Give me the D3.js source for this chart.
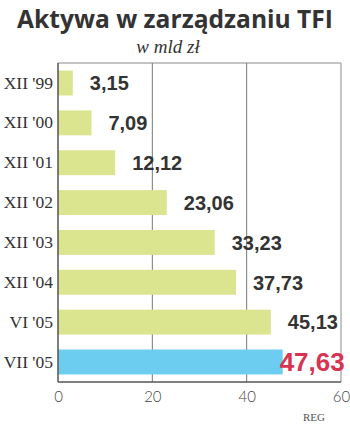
<!DOCTYPE html>
<html>
<head>
<meta charset="utf-8">
<script src="https://cdn.jsdelivr.net/npm/d3@7"></script>
<style>
  html, body { margin: 0; padding: 0; background: #fff; }
  svg { display: block; }
</style>
</head>
<body>
<svg id="chart" width="350" height="426"></svg>
<script>
// Assets under management of investment fund companies (bn PLN)
const categories = ["XII '99", "XII '00", "XII '01", "XII '02", "XII '03", "XII '04", "VI '05", "VII '05"];
const values = [3.15, 7.09, 12.12, 23.06, 33.23, 37.73, 45.13, 47.63];
const valueLabels = ["3,15", "7,09", "12,12", "23,06", "33,23", "37,73", "45,13", "47,63"];
const tickValues = [0, 20, 40, 60];
const highlightIndex = 7;

const svg = d3.select("#chart");
const W = 350, H = 426;
const m = { left: 58, right: 9, top: 63, bottom: 44 };
const x0 = m.left, x1 = W - m.right, y0 = m.top, y1 = H - m.bottom;

const x = d3.scaleLinear().domain([0, 60]).range([x0, x1]);
const y = d3.scaleBand().domain(categories).range([y0, y1]).paddingInner(0.375).paddingOuter(0.19);

// Title and subtitle
svg.append("text")
  .attr("x", 175).attr("y", 28)
  .attr("text-anchor", "middle")
  .attr("font-family", "'Open Sans', 'DejaVu Sans', sans-serif")
  .attr("font-weight", 700).attr("font-size", 25)
  .attr("textLength", 316).attr("lengthAdjust", "spacingAndGlyphs")
  .attr("fill", "#333")
  .text("Aktywa w zarządzaniu TFI");

svg.append("text")
  .attr("x", 168).attr("y", 53)
  .attr("text-anchor", "middle")
  .attr("font-family", "'Liberation Serif', 'DejaVu Serif', serif")
  .attr("font-style", "italic").attr("font-size", 19)
  .attr("fill", "#333")
  .text("w mld zł");

// Frame: light top and right edges
svg.append("line").attr("x1", x0).attr("x2", x1).attr("y1", y0).attr("y2", y0)
  .attr("stroke", "#b0b0b0").attr("stroke-width", 1.5);
svg.append("line").attr("x1", x1).attr("x2", x1).attr("y1", y0).attr("y2", y1)
  .attr("stroke", "#b0b0b0").attr("stroke-width", 1.5);

// Vertical gridlines
svg.append("g").selectAll("line")
  .data(tickValues.filter(t => t > 0 && t < 60))
  .join("line")
  .attr("x1", d => x(d)).attr("x2", d => x(d))
  .attr("y1", y0).attr("y2", y1)
  .attr("stroke", "#777").attr("stroke-width", 1);

// Bars
svg.append("g").selectAll("rect")
  .data(values)
  .join("rect")
  .attr("x", x(0))
  .attr("y", (d, i) => y(categories[i]))
  .attr("width", d => x(d) - x(0))
  .attr("height", y.bandwidth())
  .attr("fill", (d, i) => i === highlightIndex ? "#6dcdf0" : "#dbe48f");

// Axis lines: left and bottom
svg.append("line").attr("x1", x0).attr("x2", x0).attr("y1", y0).attr("y2", y1)
  .attr("stroke", "#555").attr("stroke-width", 1.5);
svg.append("line").attr("x1", x0).attr("x2", x1).attr("y1", y1).attr("y2", y1)
  .attr("stroke", "#555").attr("stroke-width", 1.5);

// Value labels
svg.append("g").selectAll("text")
  .data(values)
  .join("text")
  .attr("x", (d, i) => i === highlightIndex ? x(d) - 3 : x(d) + 17)
  .attr("y", (d, i) => y(categories[i]) + y.bandwidth() / 2 + 2)
  .attr("dominant-baseline", "middle")
  .attr("font-family", "'Liberation Sans', Arial, sans-serif")
  .attr("font-weight", 700)
  .attr("font-size", (d, i) => i === highlightIndex ? 26 : 20)
  .attr("fill", (d, i) => i === highlightIndex ? "#d83352" : "#333")
  .text((d, i) => valueLabels[i]);

// Category labels
const yAxis = svg.append("g")
  .attr("transform", `translate(${x0 - 5},0)`)
  .call(d3.axisLeft(y).tickSize(0).tickPadding(0));
yAxis.select(".domain").remove();
yAxis.selectAll("text")
  .attr("font-family", "'Liberation Serif', 'DejaVu Serif', serif")
  .attr("font-size", 17.5)
  .attr("fill", "#333");

// Bottom tick labels
const xAxis = svg.append("g")
  .attr("transform", `translate(0,${y1})`)
  .call(d3.axisBottom(x).tickValues(tickValues).tickSize(0).tickPadding(9));
xAxis.select(".domain").remove();
xAxis.selectAll("text")
  .attr("font-family", "Lato, 'Open Sans', sans-serif")
  .attr("font-weight", 300)
  .attr("font-size", 15)
  .attr("fill", "#444");

// Source note
svg.append("text")
  .attr("x", 314).attr("y", 421)
  .attr("text-anchor", "middle")
  .attr("font-family", "'Liberation Serif', serif")
  .attr("font-size", 11)
  .attr("fill", "#555")
  .text("REG");
</script>
</body>
</html>
